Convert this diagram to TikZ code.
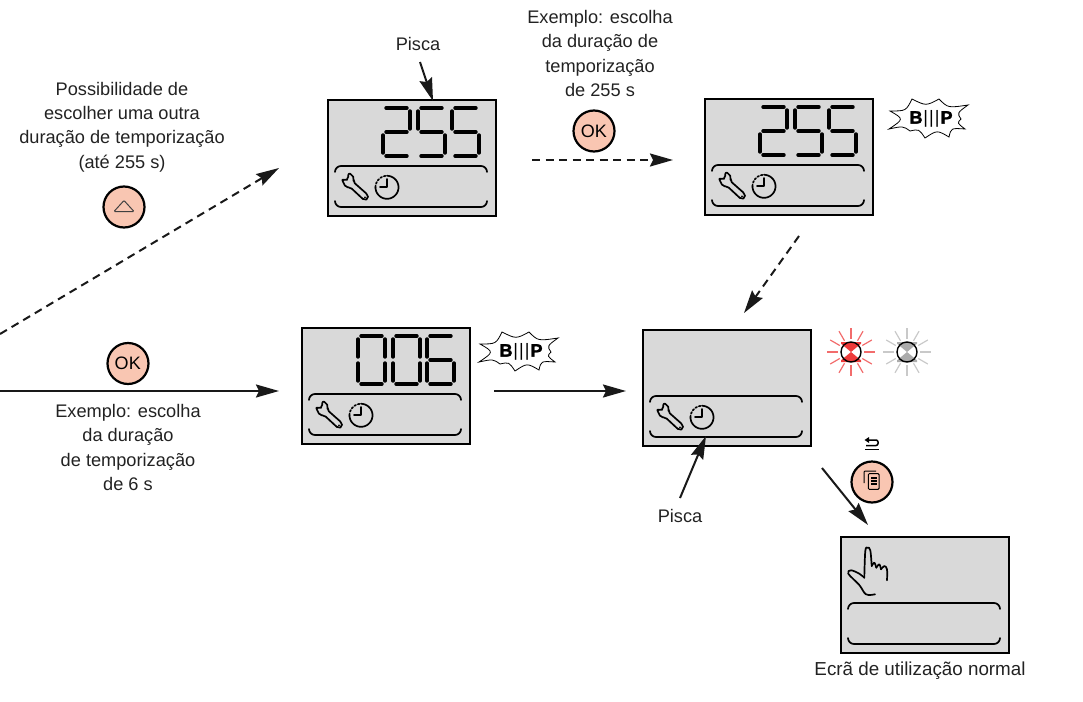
\documentclass[tikz,border=0pt]{standalone}
\usepackage{fontspec}
\setmainfont{Liberation Sans}
\newfontfamily\beepfont[BoldFeatures={FakeBold=2}]{Liberation Sans}
\usetikzlibrary{arrows.meta}

\definecolor{lcdgrey}{HTML}{D9D9D9}
\definecolor{btnpink}{HTML}{F9C6B2}
\definecolor{ledred}{HTML}{EE3B3B}
\definecolor{rayred}{HTML}{F26C6C}
\definecolor{ledgrey}{HTML}{ABABAB}
\definecolor{raygrey}{HTML}{C9C9C9}
\definecolor{inkgrey}{HTML}{222222}

\tikzset{
    lcdbox/.style={draw, line width=2pt, fill=lcdgrey, anchor=north west, minimum width=168pt, minimum height=116pt, inner sep=0pt},
    lcdline/.style={line width=1.7pt, line cap=round, line join=round},
    lcdseg/.style={line width=3.4pt, line cap=round},
    btn/.style={draw, circle, line width=2.2pt, fill=btnpink, inner sep=0pt, minimum size=41pt},
    lamp/.style={draw, circle, line width=1.4pt, minimum size=20pt, inner sep=0pt},
    note/.style={align=center, inner sep=0pt, text=inkgrey, font=\fontsize{18.2}{24.4}\selectfont},
    arr/.style={-{Stealth[length=23pt,width=13pt,inset=3pt]}, line width=2pt, color=black!90},
    darr/.style={arr, dash pattern=on 8pt off 5.5pt}
}

% Segments of one digit
\def\segtop{(3,0) -- (24,0)}
\def\segmid{(3,24) -- (24,24)}
\def\segbot{(3,48) -- (24,48)}
\def\segtl{(0,3) -- (0,21)}
\def\segtr{(27,3) -- (27,21)}
\def\segbl{(0,27) -- (0,45)}
\def\segbr{(27,27) -- (27,45)}
\newcommand{\lcddigit}[3]{
    \begin{scope}[shift={(#1,#2)}]
        \edef\seglist{#3}
        \foreach \s in \seglist{
            \draw [lcdseg] \csname seg\s\endcsname;
        }
    \end{scope}
}
\def\dtwo{top,tr,mid,bl,bot}
\def\dfive{top,tl,mid,br,bot}
\def\dzero{top,tl,tr,bl,br,bot}
\def\dsix{top,tl,mid,bl,br,bot}

% Screen frame and its lower bracket
\newcommand{\lcdscreen}[3]{
    \node[lcdbox] (#1) at (#2,#3) {};
    \begin{scope}[shift={(#2,#3)}]
        \draw [lcdline, rounded corners=6pt] (8,73) -- (8,67) -- (160,67) -- (160,73);
        \draw [lcdline, rounded corners=6pt] (8,102) -- (8,108) -- (160,108) -- (160,102);
    \end{scope}
}

% Wrench and timer
\newcommand{\lcdicons}[2]{
    \begin{scope}[shift={(#1,#2)}]
        \draw [lcdline, rounded corners=2pt] (21.3,74) -- (25.3,75.7) -- (27,80) -- (26.3,83) -- (40.7,95.7) -- (41.3,99.7) -- (37.3,101.3) -- (23.3,88.3) -- (18.7,88.3) -- (14.7,80) -- (18.7,81.7) -- (21.3,79.7) -- cycle;
        \fill (38,98.3) circle (1pt);
        \draw [lcdline] plot[domain=-90:180, samples=40] ({60+11.5*cos(\x)},{88.3+11.5*sin(\x)});
        \draw [lcdline, dotted] plot[domain=180:270, samples=12] ({60+11.5*cos(\x)},{88.3+11.5*sin(\x)});
        \draw [lcdline] (60,80) -- (60,88.3) -- (53,88.3);
    \end{scope}
}

% Sound burst
\newcommand{\beep}[3]{
    \draw [line width=0.8pt, shift={(#2,#3)}] (-19,-20) .. controls (-5,-13) .. (8,-20) .. controls (17,-11) .. (37,-14)
        .. controls (26,-6) .. (30,0) .. controls (26,4) .. (34,10) .. controls (20,9) .. (18,18)
        .. controls (6,11) .. (-6,19) .. controls (-12,10) .. (-21,12) .. controls (-28,7) .. (-42,10)
        .. controls (-27,0) .. (-41,-8) .. controls (-25,-8) .. cycle;
    \node[inner sep=0pt, font=\fontsize{18}{18}\selectfont\beepfont] (#1) at (#2,#3) {\textbf{B}\kern1pt|\kern1pt|\kern1pt|\kern1pt\textbf{P}};
}

% Blinking lamp
\newcommand{\ledlamp}[5]{
    \begin{scope}[shift={(#2,#3)}]
        \foreach \a in {0,30,...,330}{
            \draw [#5, line width=1.2pt] ({13*cos(\a)},{13*sin(\a)}) -- ({24*cos(\a)},{24*sin(\a)});
        }
        \begin{scope}
            \clip (-10,-10) rectangle (10,10);
            \fill [#4] (0,0) -- (-12,-10) -- (12,-10) -- cycle;
            \fill [#4] (0,0) -- (-12,10) -- (12,10) -- cycle;
        \end{scope}
    \end{scope}
    \node[lamp] (#1) at (#2,#3) {};
}

\begin{document}
\begin{tikzpicture}[x=1pt, y=-1pt]

        \useasboundingbox (0,0) rectangle (1083,701);

        % Screens
        \lcdscreen{scrChoose}{327}{99}
        \lcdscreen{scrSet}{704}{98}
        \lcdscreen{scrSix}{301}{327}
        \lcdscreen{scrBlink}{642}{329}
        \lcdscreen{scrNormal}{840}{536}
        \lcdicons{327}{99}
        \lcdicons{704}{98}
        \lcdicons{301}{327}
        \lcdicons{642}{329}

        % Digits
        \foreach \x/\d in {383/\dtwo, 418/\dfive, 452/\dfive}{
            \lcddigit{\x}{108}{\d}
            \lcddigit{\x+377}{107}{\d}
        }
        \foreach \x/\d in {358/\dzero, 393/\dzero, 427/\dsix}{
            \lcddigit{\x}{336}{\d}
        }

        % Hand
        \begin{scope}[shift={(840,536)}]
            \draw [lcdline] plot[smooth, tension=.6] coordinates {(24.3,41.7) (25.3,15) (27.7,11.7) (30.3,14.3) (31.7,30)};
            \draw [lcdline] plot[smooth, tension=.6] coordinates {(31.7,30) (34.3,26.7) (36.3,31.7)};
            \draw [lcdline] plot[smooth, tension=.6] coordinates {(36.3,31.7) (39.3,28.3) (41,33.3)};
            \draw [lcdline] plot[smooth, tension=.6] coordinates {(41,33.3) (44.3,30) (47,33.3) (47,44.3)};
            \draw [lcdline] plot[smooth, tension=.6] coordinates {(24.3,41.7) (19.3,37.7) (11,34.3) (8.3,37.7) (19.3,49) (26,58.3) (35,58.3)};
        \end{scope}

        % Buttons
        \node[btn] (btnUp) at (124,207) {};
        \draw [line width=1pt, rounded corners=1pt, color=black!75] (114,211.5) -- (124,200.5) -- (134,211.5) -- cycle;
        \node[btn, font=\fontsize{18}{18}\selectfont] (btnOkTop) at (594,131) {\kern-.5pt OK};
        \node[btn, font=\fontsize{18}{18}\selectfont] (btnOkLow) at (128,363.5) {\kern-.5pt OK};
        \node[btn] (btnCopy) at (872,482) {};
        \draw [line width=1pt, rounded corners=1pt] (864,483) -- (864,471) -- (876,471);
        \draw [line width=1pt, rounded corners=1pt] (868.3,473.7) rectangle (879,489.3);
        \foreach \y in {478,481,484}{
            \draw [line width=1.3pt] (871,\y) -- (877,\y);
        }

        % Back symbol
        \fill (864.5,440) -- (869,437) -- (869,443) -- cycle;
        \draw [line width=1.5pt, rounded corners=2pt] (868,440) -- (878,440) -- (878,445.5) -- (866,445.5);
        \draw [line width=1.5pt] (865,449.5) -- (879,449.5);

        % Beeps and lamps
        \beep{beepSix}{521}{352}
        \beep{beepSet}{931}{119}
        \ledlamp{lampRed}{851}{352}{ledred}{rayred}
        \ledlamp{lampGrey}{907}{352}{ledgrey}{raygrey}

        % Texts
        \node[note] (txtChoose) at (122,127) {Possibilidade de\\escolher uma outra\\duração de temporização\\(até 255 s)};
        \node[note] (txtTop) at (600,53.5) {Exemplo: escolha\\da duração de\\temporização\\de 255 s};
        \node[note] (txtLow) at (128,447.5) {Exemplo: escolha\\da duração\\de temporização\\de 6 s};
        \node[note] (piscaTop) at (418,44) {Pisca};
        \node[note] (piscaLow) at (680,516) {Pisca};
        \node[note, font=\fontsize{18.8}{24.4}\selectfont] (txtNormal) at (920,671) {Ecrã de utilização normal};

        % Arrows
        \coordinate (upStart) at (0,334);
        \coordinate (upEnd) at (279,168);
        \coordinate (okStart) at (0,391);
        \coordinate (okEnd) at (279,391);
        \coordinate (setStart) at (532,160);
        \coordinate (setEnd) at (673,160);
        \coordinate (downStart) at (799,236);
        \coordinate (downEnd) at (744,313);
        \coordinate (blinkStart) at (494,391);
        \coordinate (blinkEnd) at (626,391);
        \coordinate (piscaTopStart) at (420,62);
        \coordinate (piscaTopEnd) at (433,101);
        \coordinate (piscaLowStart) at (680,498);
        \coordinate (piscaLowEnd) at (706,436);
        \coordinate (backStart) at (822,468);
        \coordinate (backEnd) at (868,525);
        \draw [darr] (upStart) -- (upEnd);
        \draw [arr] (okStart) -- (okEnd);
        \draw [darr] (setStart) -- (setEnd);
        \draw [darr] (downStart) -- (downEnd);
        \draw [arr] (blinkStart) -- (blinkEnd);
        \draw [arr] (piscaTopStart) -- (piscaTopEnd);
        \draw [arr] (piscaLowStart) -- (piscaLowEnd);
        \draw [arr] (backStart) -- (backEnd);

\end{tikzpicture}
\end{document}
